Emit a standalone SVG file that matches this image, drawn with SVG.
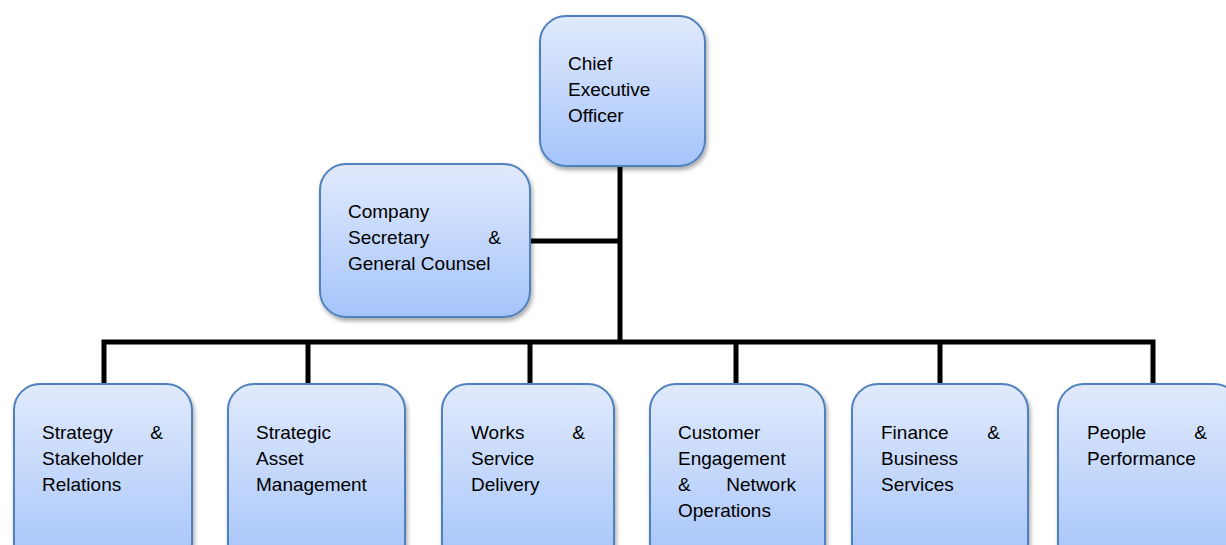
<svg xmlns="http://www.w3.org/2000/svg" width="1226" height="545" viewBox="0 0 1226 545">
<style>
.box{fill:url(#g);stroke:#4f81bd;stroke-width:2;filter:url(#sh)}
.t{font-family:"Liberation Sans",Arial,sans-serif;font-size:19px;fill:#000}
.c{stroke:#000;stroke-width:5;fill:none}
</style>
<defs>
<linearGradient id="g" x1="0" y1="0" x2="0" y2="1">
<stop offset="0" stop-color="#e1eafc"/>
<stop offset="1" stop-color="#a5c4fa"/>
</linearGradient>
<filter id="sh" x="-10%" y="-10%" width="125%" height="125%">
<feDropShadow dx="1.5" dy="3" stdDeviation="2" flood-color="#000" flood-opacity="0.35"/>
</filter>
</defs>
<g id="connectors">
<path class="c" d="M620,166 V342 M530,241 H620 M104,384 V342 H1153 V384 M308,342 V384 M530,342 V384 M736,342 V384 M940,342 V384"/>
</g>
<g id="ceo">
<rect class="box" x="540" y="16" width="165" height="150" rx="26"/>
<text class="t" x="568" y="70">Chief</text>
<text class="t" x="568" y="96">Executive</text>
<text class="t" x="568" y="122">Officer</text>
</g>
<g id="company-secretary">
<rect class="box" x="320" y="164" width="210" height="153" rx="26"/>
<text class="t" x="348" y="218">Company</text>
<text class="t" x="348" y="244">Secretary</text>
<text class="t" x="501" y="244" text-anchor="end">&amp;</text>
<text class="t" x="348" y="270">General Counsel</text>
</g>
<g id="strategy">
<rect class="box" x="14" y="384" width="178" height="185" rx="26"/>
<text class="t" x="42" y="439">Strategy</text>
<text class="t" x="163" y="439" text-anchor="end">&amp;</text>
<text class="t" x="42" y="465">Stakeholder</text>
<text class="t" x="42" y="491">Relations</text>
</g>
<g id="asset">
<rect class="box" x="228" y="384" width="177" height="185" rx="26"/>
<text class="t" x="256" y="439">Strategic</text>
<text class="t" x="256" y="465">Asset</text>
<text class="t" x="256" y="491">Management</text>
</g>
<g id="works">
<rect class="box" x="442" y="384" width="172" height="185" rx="26"/>
<text class="t" x="471" y="439">Works</text>
<text class="t" x="585" y="439" text-anchor="end">&amp;</text>
<text class="t" x="471" y="465">Service</text>
<text class="t" x="471" y="491">Delivery</text>
</g>
<g id="customer">
<rect class="box" x="650" y="384" width="175" height="185" rx="26"/>
<text class="t" x="678" y="439">Customer</text>
<text class="t" x="678" y="465">Engagement</text>
<text class="t" x="678" y="491">&amp;</text>
<text class="t" x="796" y="491" text-anchor="end">Network</text>
<text class="t" x="678" y="517">Operations</text>
</g>
<g id="finance">
<rect class="box" x="852" y="384" width="176" height="185" rx="26"/>
<text class="t" x="881" y="439">Finance</text>
<text class="t" x="1000" y="439" text-anchor="end">&amp;</text>
<text class="t" x="881" y="465">Business</text>
<text class="t" x="881" y="491">Services</text>
</g>
<g id="people">
<rect class="box" x="1058" y="384" width="182" height="185" rx="26"/>
<text class="t" x="1087" y="439">People</text>
<text class="t" x="1207" y="439" text-anchor="end">&amp;</text>
<text class="t" x="1087" y="465">Performance</text>
</g>
</svg>
